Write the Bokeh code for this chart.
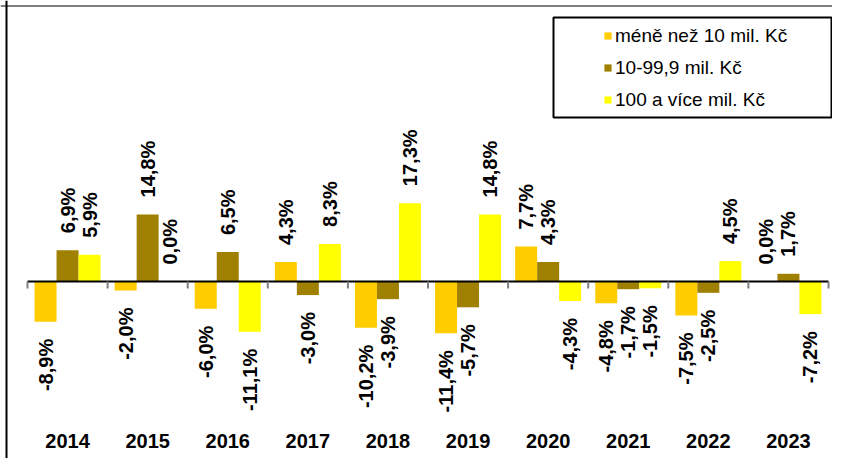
import numpy as np
from bokeh.plotting import figure
from bokeh.models import ColumnDataSource, Range1d, Span
from bokeh.core.properties import value
from bokeh.embed import file_html
from bokeh.resources import INLINE

# ---- data ----
years = ["2014", "2015", "2016", "2017", "2018", "2019", "2020", "2021", "2022", "2023"]
series_names = ["méně než 10 mil. Kč", "10-99,9 mil. Kč", "100 a více mil. Kč"]
small = [-8.9, -2.0, -6.0, 4.3, -10.2, -11.4, 7.7, -4.8, -7.5, 0.0]
medium = [6.9, 14.8, 6.5, -3.0, -3.9, -5.7, 4.3, -1.7, -2.5, 1.7]
large = [5.9, 0.0, -11.1, 8.3, 17.3, 14.8, -4.3, -1.5, 4.5, -7.2]

# ---- layout constants (pixels on the canvas) ----
W, H = 832, 458
PX_PER_CAT = 80.1
X0_PX = 67.05          # canvas x of first category centre
PX_PER_PCT = 4.53
Y0_PX = 281.0          # canvas y of the zero line


def x_at(px):
    return (px - X0_PX) / PX_PER_CAT


def y_at(px):
    return (Y0_PX - px) / PX_PER_PCT


colors = ["#FFCC00", "#A08000", "#FFFF00"]
bar_w = 22 / PX_PER_CAT
offsets = [-bar_w, 0.0, bar_w]
FONT = value("Liberation Sans")

p = figure(width=W, height=H, output_backend="svg", toolbar_location=None,
           x_range=Range1d(x_at(0), x_at(W)), y_range=Range1d(y_at(H), y_at(0)),
           x_axis_type=None, y_axis_type=None, min_border=0)
p.grid.visible = False
p.outline_line_color = None
p.background_fill_color = "white"
p.border_fill_color = "white"

# frame lines (top grey, left black)
p.add_layout(Span(location=y_at(5.5), dimension="width", line_color="#808080", line_width=2))
p.add_layout(Span(location=x_at(6), dimension="height", line_color="black", line_width=2))

idx = np.arange(len(years))

# bars
for vals, name, col, off in zip([small, medium, large], series_names, colors, offsets):
    src = ColumnDataSource(dict(x=idx + off, top=vals))
    p.vbar(x="x", top="top", bottom=0, width=bar_w, source=src,
           fill_color=col, line_color=None, legend_label=name)

# zero axis line + ticks at category boundaries
bounds = np.arange(len(years) + 1) - 0.5
p.segment(x0=[bounds[0]], y0=[0], x1=[bounds[-1]], y1=[0], line_color="black", line_width=2)
p.segment(x0=bounds, y0=np.zeros_like(bounds), x1=bounds,
          y1=np.full_like(bounds, -7 / PX_PER_PCT), line_color="#7f7f7f", line_width=2)

# data labels
lx, ly, lt = [], [], []
for vals, off in zip([small, medium, large], offsets):
    for i, v in enumerate(vals):
        lx.append(i + off)
        ly.append(v)
        lt.append(f"{v:.1f}".replace(".", ",") + "%")
lx, ly, lt = np.array(lx), np.array(ly), np.array(lt)
pos = ly >= 0
neg = ~pos
p.text(x=lx[pos], y=ly[pos], text=lt[pos], angle=np.pi / 2, text_align="left",
       text_baseline="middle", y_offset=-17, text_font=FONT, text_font_style="bold",
       text_font_size="20px", text_color="black")
p.text(x=lx[neg], y=ly[neg], text=lt[neg], angle=np.pi / 2, text_align="right",
       text_baseline="middle", y_offset=17, text_font=FONT, text_font_style="bold",
       text_font_size="20px", text_color="black")

# category labels
p.text(x=idx, y=np.full(len(years), y_at(440)), text=years, text_align="center",
       text_baseline="middle", text_font=FONT, text_font_style="bold",
       text_font_size="20px", text_color="black")

# legend box
p.quad(left=[x_at(553)], right=[x_at(831)], top=[y_at(17)], bottom=[y_at(117)],
       fill_color="white", line_color="black", line_width=2)

lg = p.legend[0]
lg.location = (603, H - 110.5)
lg.padding = 0
lg.margin = 0
lg.spacing = 10
lg.glyph_width = 9
lg.glyph_height = 9
lg.label_height = 22
lg.label_standoff = 3
lg.label_text_font = "Liberation Sans"
lg.label_text_font_size = "19px"
lg.label_text_color = "black"
lg.border_line_alpha = 0
lg.background_fill_alpha = 0

open("out.html", "w").write(file_html(p, INLINE))
